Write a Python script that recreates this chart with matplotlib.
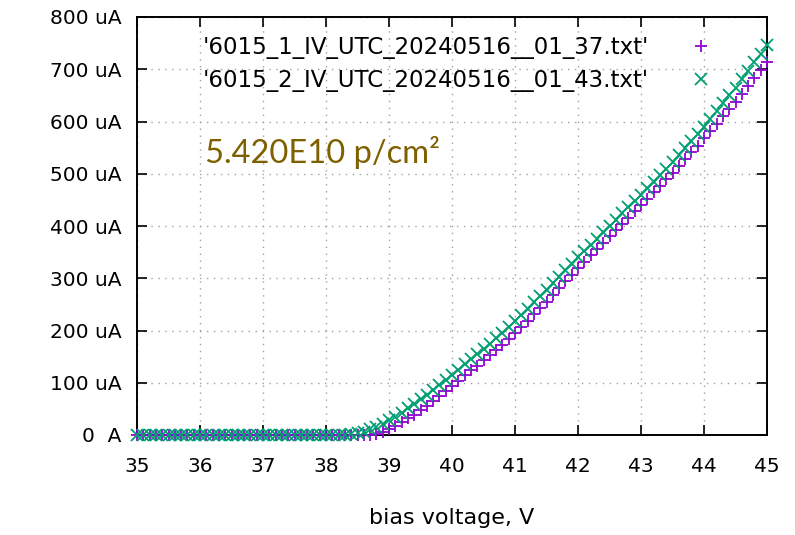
import numpy as np
import matplotlib
matplotlib.use("Agg")
import matplotlib.pyplot as plt
from matplotlib.ticker import FixedLocator, FixedFormatter

# bias sweep, 0.1 V steps
volts = np.round(np.arange(35.0, 45.05, 0.1), 1)

# current in uA, sensor 1 (purple +)
cur_1 = [0.3, 0.4, 0.3, 0.5, 0.4, 0.3, 0.4, 0.5, 0.3, 0.4,
         0.4, 0.3, 0.5, 0.4, 0.3, 0.4, 0.5, 0.4, 0.3, 0.4,
         0.5, 0.4, 0.3, 0.4, 0.5, 0.4, 0.3, 0.5, 0.4, 0.4,
         0.5, 0.4, 0.5, 0.5, 0.6, 0.6, 0.7, 0.8, 2, 6,
         12, 18, 25, 32, 39, 47, 56, 65, 74, 84,
         94, 104, 114, 124, 133, 143, 153, 163, 173, 184,
         195, 207, 219, 231, 243, 255, 268, 281, 294, 307,
         320, 332, 344, 356, 368, 380, 392, 404, 416, 428,
         440, 452, 465, 477, 490, 502, 515, 528, 541, 554,
         568, 582, 596, 610, 624, 638, 653, 668, 683, 698,
         714]

# current in uA, sensor 2 (green x)
cur_2 = [0.5, 0.6, 0.5, 0.4, 0.6, 0.5, 0.5, 0.6, 0.4, 0.5,
         0.6, 0.5, 0.5, 0.4, 0.6, 0.5, 0.5, 0.6, 0.5, 0.4,
         0.5, 0.6, 0.5, 0.5, 0.6, 0.5, 0.4, 0.6, 0.5, 0.6,
         0.7, 0.7, 0.8, 0.9, 1.5, 3, 6, 11, 16, 22,
         28, 35, 43, 51, 59, 68, 77, 86, 96, 105,
         115, 125, 135, 145, 155, 165, 175, 186, 196, 207,
         218, 230, 242, 254, 266, 278, 290, 303, 315, 328,
         340, 352, 364, 376, 388, 400, 412, 424, 436, 448,
         460, 472, 484, 497, 509, 522, 535, 549, 562, 576,
         590, 605, 620, 635, 650, 665, 681, 697, 714, 730,
         747]

labels = ["'6015_1_IV_UTC_20240516__01_37.txt'",
          "'6015_2_IV_UTC_20240516__01_43.txt'"]
y_ticks = [0, 100, 200, 300, 400, 500, 600, 700, 800]
y_tick_labels = ["0  A", "100 uA", "200 uA", "300 uA", "400 uA",
                 "500 uA", "600 uA", "700 uA", "800 uA"]
x_ticks = [35, 36, 37, 38, 39, 40, 41, 42, 43, 44, 45]

plt.rcParams['font.family'] = ['DejaVu Sans']

fig = plt.figure(figsize=(7.95, 5.35), dpi=100)
ax = fig.add_axes([137 / 795, 1 - 435 / 535, 630 / 795, 418 / 535])

ax.plot(volts, cur_1, linestyle='none', marker='+', markersize=9,
        markeredgewidth=1.3, color='#9400D3', label=labels[0], clip_on=False,
        zorder=3)
ax.plot(volts, cur_2, linestyle='none', marker='x', markersize=8,
        markeredgewidth=1.3, color='#009E73', label=labels[1], clip_on=False,
        zorder=3)

ax.set_xlim(35, 45)
ax.set_ylim(0, 800)
ax.xaxis.set_major_locator(FixedLocator(x_ticks))
ax.yaxis.set_major_locator(FixedLocator(y_ticks))
ax.yaxis.set_major_formatter(FixedFormatter(y_tick_labels))
ax.tick_params(direction='in', length=7, width=1.2, top=True, right=True,
               labelsize=14.5, colors='black')
ax.tick_params(axis='x', pad=16)
ax.tick_params(axis='y', pad=11)
for s in ax.spines.values():
    s.set_linewidth(1.4)
ax.grid(True, color='#a0a0a0', linestyle=(0, (1, 4)), linewidth=1.0)
ax.set_axisbelow(True)

ax.set_xlabel('bias voltage, V', fontsize=16, labelpad=23)

leg = ax.legend(loc='upper right', bbox_to_anchor=(722 / 795, 1 - 27 / 535),
                bbox_transform=fig.transFigure,
                markerfirst=False, frameon=False, fontsize=16.5,
                handlelength=1.0, handletextpad=1.8, labelspacing=0.45,
                borderaxespad=0.0)

fig.text(205 / 795, 1 - 163 / 535, '5.420E10 p/cm\u00b2', color='#7F6000',
         fontsize=23.5, family=['Lato', 'DejaVu Sans'], va='baseline', ha='left')

fig.savefig('out.png', dpi=100)
